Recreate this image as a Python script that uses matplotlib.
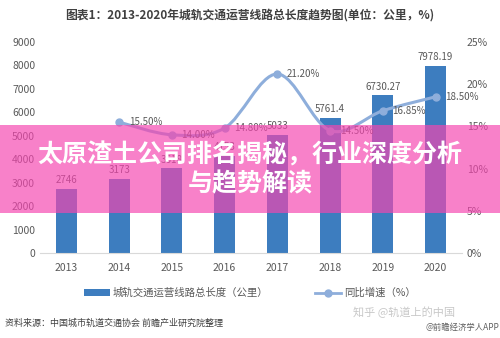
import numpy as np
import matplotlib
matplotlib.use("Agg")
import matplotlib.pyplot as plt
from matplotlib.path import Path
from matplotlib.patches import PathPatch, Rectangle
from matplotlib.lines import Line2D
from matplotlib.patches import Patch

plt.rcParams['font.family'] = ['Noto Sans CJK SC', 'DejaVu Sans']

# data
years = ['2013', '2014', '2015', '2016', '2017', '2018', '2019', '2020']
length_km = [2746, 3173, 3618, 4153, 5033, 5761.4, 6730.27, 7978.19]
length_labels = ['2746', '3173', '3618', '4153', '5033', '5761.4', '6730.27', '7978.19']
growth_years = ['2014', '2015', '2016', '2017', '2018', '2019', '2020']
growth_pct = [15.5, 14.0, 14.8, 21.2, 14.5, 16.85, 18.5]

bar_color = '#3d7dbf'
line_color = '#8eaedb'
tick_color = '#595959'


def smooth_path(xs, ys):
    """Catmull-Rom through the points, as cubic bezier segments."""
    pts = list(zip(xs, ys))
    verts = [pts[0]]
    codes = [Path.MOVETO]
    for i in range(len(pts) - 1):
        p0 = pts[i - 1] if i > 0 else pts[i]
        p1 = pts[i]
        p2 = pts[i + 1]
        p3 = pts[i + 2] if i + 2 < len(pts) else pts[i + 1]
        c1 = (p1[0] + (p2[0] - p0[0]) / 6, p1[1] + (p2[1] - p0[1]) / 6)
        c2 = (p2[0] - (p3[0] - p1[0]) / 6, p2[1] - (p3[1] - p1[1]) / 6)
        verts += [c1, c2, p2]
        codes += [Path.CURVE4] * 3
    return Path(verts, codes)


fig = plt.figure(figsize=(5, 3.38), dpi=100)
ax = fig.add_axes([0.08, 0.2515, 0.844, 0.6245])
x = np.arange(len(years))

ax.bar(x, length_km, width=0.4, color=bar_color, zorder=2)
for xi, v, lab in zip(x, length_km, length_labels):
    ax.text(xi, v + 150, lab, ha='center', va='bottom', fontsize=7, color=tick_color)

ax.set_xlim(-0.5, len(years) - 0.5)
ax.set_ylim(0, 9000)
ax.set_yticks(range(0, 9001, 1000))
ax.set_xticks(x)
ax.set_xticklabels(years)
ax.tick_params(axis='both', length=0, labelsize=7.5, colors=tick_color)
ax.tick_params(axis='x', pad=7)
for s in ['top', 'right', 'left']:
    ax.spines[s].set_visible(False)
ax.spines['bottom'].set_color('#d9d9d9')

ax2 = ax.twinx()
ax2.set_ylim(0, 25)
ax2.set_yticks(range(0, 26, 5))
ax2.set_yticklabels([f'{v}%' for v in range(0, 26, 5)])
ax2.tick_params(axis='y', length=0, labelsize=7.5, colors=tick_color)
for s in ax2.spines.values():
    s.set_visible(False)

gx = [years.index(y) for y in growth_years]
ax2.add_patch(PathPatch(smooth_path(gx, growth_pct), fill=False,
                        edgecolor=line_color, lw=2.2, zorder=3))
ax2.plot(gx, growth_pct, 'o', color=line_color, ms=5, zorder=4)
for xi, v in zip(gx, growth_pct):
    ax2.text(xi + 0.18, v, f'{v:.2f}%', ha='left', va='center', fontsize=7, color=tick_color)

fig.text(0.5, 0.955, '图表1：2013-2020年城轨交通运营线路总长度趋势图(单位：公里，%)',
         ha='center', va='center', fontsize=8.5, fontweight='bold', color='#404040')

handles = [Patch(facecolor=bar_color, edgecolor='none'),
           Line2D([0], [0], color=line_color, lw=2, marker='o', ms=5)]
fig.legend(handles, ['城轨交通运营线路总长度（公里）', '同比增速（%）'],
           loc='center', bbox_to_anchor=(0.5, 0.133), ncol=2, frameon=False,
           fontsize=7.5, labelcolor=tick_color, handlelength=2.5,
           handletextpad=0.3, columnspacing=4.5)

fig.text(0.01, 0.045, '资料来源：中国城市轨道交通协会 前瞻产业研究院整理',
         ha='left', va='center', fontsize=6.5, color='#404040')
fig.text(0.91, 0.075, '知乎 @轨道上的中国', ha='right', va='center',
         fontsize=8, color='#c8c8c8')
fig.text(0.998, 0.03, '@前瞻经济学人APP', ha='right', va='center',
         fontsize=6, color='#606060')

# pink banner with headline
fig.patches.append(Rectangle((0, 1 - 213 / 338), 1, 88 / 338, transform=fig.transFigure,
                             facecolor='#f545b0', alpha=0.68, edgecolor='none', zorder=10))
fig.text(0.5, 1 - 155 / 338, '太原渣土公司排名揭秘，行业深度分析', ha='center', va='center',
         fontsize=18, fontweight='bold', color='white', zorder=11)
fig.text(0.5, 1 - 184 / 338, '与趋势解读', ha='center', va='center',
         fontsize=18, fontweight='bold', color='white', zorder=11)

fig.savefig('out.png', dpi=100)
